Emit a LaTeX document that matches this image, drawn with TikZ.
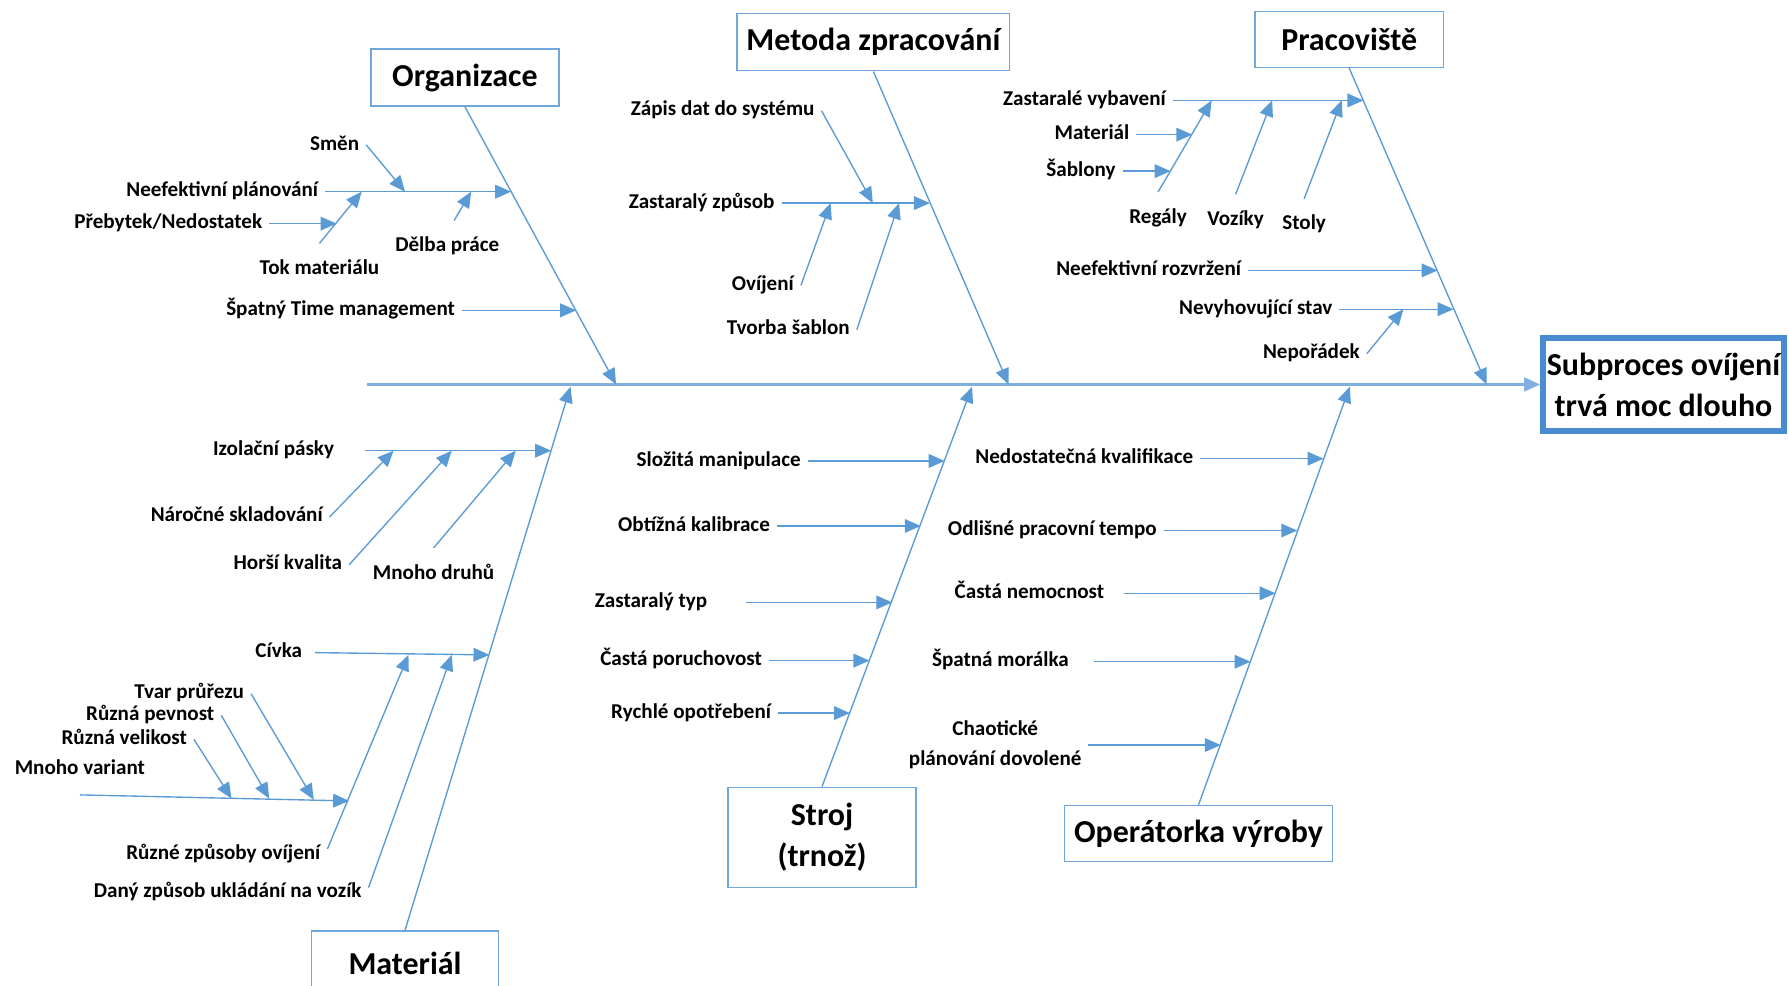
\documentclass[tikz,border=0pt]{standalone}
\usepackage{fontspec}
\setmainfont{Carlito}
\usetikzlibrary{arrows.meta}
\definecolor{bonec}{HTML}{5B9BD5}
\definecolor{spinec}{HTML}{7FB0E0}
\definecolor{boxc}{HTML}{6FA6DC}
\definecolor{effc}{HTML}{4A8CD0}

\begin{document}
\begin{tikzpicture}[x=1pt, y=-1pt,
    bone/.style={draw=bonec, line width=1.2pt},
    arr/.style={bone, -{Triangle[length=14pt, width=12pt]}},
    lab/.style={font=\fontsize{18.5}{26}\selectfont\bfseries, inner xsep=6pt, inner ysep=2pt},
    cause/.style={lab, text height=13pt, text depth=4pt},
    group/.style={draw=boxc, line width=1.3pt, font=\fontsize{28}{36}\selectfont\bfseries, align=center}]

  \useasboundingbox (0,0) rectangle (1568,864);

  \node[group, draw=effc, line width=5pt, minimum width=211pt, minimum height=81pt] (eff) at (1458,337) {Subproces ovíjení\\trvá moc dlouho};
  \node[group, minimum width=165pt, minimum height=50pt] (org) at (407.5,68) {Organizace};
  \node[group, minimum width=239pt, minimum height=50pt] (met) at (765.5,37) {Metoda zpracování};
  \node[group, minimum width=165pt, minimum height=49pt] (pra) at (1182.5,34.5) {Pracoviště};
  \node[group, minimum width=164pt, minimum height=56pt] (mat) at (355,844) {Materiál};
  \node[group, minimum width=165pt, minimum height=88pt] (str) at (720.5,734) {Stroj\\(trnož)};
  \node[group, minimum width=235pt, minimum height=49pt] (ope) at (1050.5,730.5) {Operátorka výroby};

  % spine and bones
  \coordinate (tail) at (322,337);
  \coordinate (oe) at (540,337);
  \coordinate (me) at (884,337);
  \coordinate (pe) at (1303,337);
  \coordinate (ae) at (500,339);
  \coordinate (se) at (852,339);
  \coordinate (qe) at (1183,339);

  \coordinate (o1t) at (448,168);
  \coordinate (o1a) at (355,168);
  \coordinate (o1b) at (317,168);
  \coordinate (o1c) at (413,168);
  \coordinate (toka) at (295,196);
  \coordinate (o6t) at (505,272);

  \coordinate (m1t) at (815,178);
  \coordinate (m1a) at (765,178);
  \coordinate (m1b) at (728,178);
  \coordinate (m1c) at (788,178);

  \coordinate (p1t) at (1195,88);
  \coordinate (p1a) at (1062,88);
  \coordinate (p1b) at (1115,88);
  \coordinate (p1c) at (1176,88);
  \coordinate (rega) at (1045,118);
  \coordinate (regb) at (1026,150);
  \coordinate (p3t) at (1260,237);
  \coordinate (p2t) at (1274,271);
  \coordinate (p2a) at (1230,271);

  \coordinate (a1t) at (483,395);
  \coordinate (a1a) at (345,395);
  \coordinate (a1b) at (396,395);
  \coordinate (a1c) at (452,395);
  \coordinate (a2t) at (429,574);
  \coordinate (a2a) at (358,574);
  \coordinate (a2b) at (396,574);
  \coordinate (vart) at (306,702);
  \coordinate (vara) at (203,700);
  \coordinate (varb) at (236,700);
  \coordinate (varc) at (275,701);

  \coordinate (s1t) at (828,404);
  \coordinate (s2t) at (807,461);
  \coordinate (s3t) at (782,528);
  \coordinate (s4t) at (762,579);
  \coordinate (s5t) at (745,625);

  \coordinate (q1t) at (1160,402);
  \coordinate (q2t) at (1137,465);
  \coordinate (q3t) at (1118,520);
  \coordinate (q4t) at (1096,580);
  \coordinate (q5t) at (1070,653);

  % causes
  \node[cause, anchor=east] (smen) at (321,127) {Směn};
  \node[cause, anchor=east] (o1) at (285,168) {Neefektivní plánování};
  \node[cause, anchor=east] (preb) at (236,196) {Přebytek/Nedostatek};
  \node[cause] (tok) at (280,236) {Tok materiálu};
  \node[cause] (delba) at (392,216) {Dělba práce};
  \node[cause, anchor=east] (o6) at (405,272) {Špatný Time management};

  \node[cause, anchor=east] (zapis) at (720,97) {Zápis dat do systému};
  \node[cause, anchor=east] (m1) at (685,178) {Zastaralý způsob};
  \node[cause, anchor=east] (ovij) at (702,250) {Ovíjení};
  \node[cause, anchor=east] (tvorba) at (751,289) {Tvorba šablon};

  \node[cause, anchor=east] (p1) at (1028,88) {Zastaralé vybavení};
  \node[cause, anchor=east] (pmat) at (996,118) {Materiál};
  \node[cause, anchor=east] (psab) at (984,150) {Šablony};
  \node[cause] (regaly) at (1015,191) {Regály};
  \node[cause] (voziky) at (1083,193) {Vozíky};
  \node[cause] (stoly) at (1143,197) {Stoly};
  \node[cause, anchor=east] (p3) at (1094,237) {Neefektivní rozvržení};
  \node[cause, anchor=east] (p2) at (1174,271) {Nevyhovující stav};
  \node[cause, anchor=east] (nepor) at (1198,310) {Nepořádek};

  \node[cause, anchor=east] (a1) at (299,395) {Izolační pásky};
  \node[cause, anchor=east] (naroc) at (289,453) {Náročné skladování};
  \node[cause, anchor=east] (horsi) at (306,495) {Horší kvalita};
  \node[cause] (druhy) at (380,503) {Mnoho druhů};
  \node[cause, anchor=east] (a2) at (271,572) {Cívka};
  \node[cause, anchor=east] (tvar) at (220,608) {Tvar průřezu};
  \node[cause, anchor=east, fill=white] (pevn) at (194,627) {Různá pevnost};
  \node[cause, anchor=east] (velik) at (170,648) {Různá velikost};
  \node[cause] (varia) at (70,674) {Mnoho variant};
  \node[cause, anchor=east] (zpus) at (287,749) {Různé způsoby ovíjení};
  \node[cause, anchor=east] (dany) at (323,782) {Daný způsob ukládání na vozík};

  \node[cause, anchor=east] (s1) at (708,404) {Složitá manipulace};
  \node[cause, anchor=east] (s2) at (681,461) {Obtížná kalibrace};
  \node[cause, anchor=east] (s3) at (626,528) {Zastaralý typ};
  \node[cause, anchor=east] (s4) at (674,579) {Častá poruchovost};
  \node[cause, anchor=east] (s5) at (682,625) {Rychlé opotřebení};

  \node[cause, anchor=east] (q1) at (1052,402) {Nedostatečná kvalifikace};
  \node[cause, anchor=east] (q2) at (1020,465) {Odlišné pracovní tempo};
  \node[cause, anchor=east] (q3) at (974,520) {Častá nemocnost};
  \node[cause, anchor=east] (q4) at (943,580) {Špatná morálka};
  \node[lab, align=center, anchor=east] (q5) at (954,653) {Chaotické\\plánování dovolené};

  \draw[arr, line width=2pt, draw=spinec] (tail) -- (eff.west);
  \draw[arr] (org.south) -- (oe);
  \draw[arr] (met.south) -- (me);
  \draw[arr] (pra.south) -- (pe);
  \draw[arr] (mat.north) -- (ae);
  \draw[arr] (str.north) -- (se);
  \draw[arr] (ope.north) -- (qe);

  \draw[arr] (o1.east) -- (o1t);
  \draw[arr] (smen.east) -- (o1a);
  \draw[arr] (preb.east) -- (toka);
  \draw[arr] ([yshift=12pt]tok.north) -- (o1b);
  \draw[arr] ([xshift=6pt,yshift=12pt]delba.north) -- (o1c);
  \draw[arr] (o6.east) -- (o6t);

  \draw[arr] (zapis.east) -- (m1a);
  \draw[arr] (m1.east) -- (m1t);
  \draw[arr] (ovij.east) -- (m1b);
  \draw[arr] (tvorba.east) -- (m1c);

  \draw[arr] (p1.east) -- (p1t);
  \draw[arr] (pmat.east) -- (rega);
  \draw[arr] (psab.east) -- (regb);
  \draw[arr] ([yshift=12pt]regaly.north) -- (p1a);
  \draw[arr] ([yshift=12pt]voziky.north) -- (p1b);
  \draw[arr] ([yshift=12pt]stoly.north) -- (p1c);
  \draw[arr] (p3.east) -- (p3t);
  \draw[arr] (p2.east) -- (p2t);
  \draw[arr] (nepor.east) -- (p2a);

  \draw[arr] ([xshift=21pt]a1.east) -- (a1t);
  \draw[arr] (naroc.east) -- (a1a);
  \draw[arr] (horsi.east) -- (a1b);
  \draw[arr] ([yshift=12pt]druhy.north) -- (a1c);
  \draw[arr] ([xshift=5pt]a2.east) -- (a2t);
  \draw[arr] (tvar.east) -- (varc);
  \draw[arr] (pevn.east) -- (varb);
  \draw[arr] (velik.east) -- (vara);
  \draw[arr] ([yshift=-12pt]varia.south) -- (vart);
  \draw[arr] ([yshift=5pt]zpus.east) -- (a2a);
  \draw[arr] ([yshift=4pt]dany.east) -- (a2b);

  \draw[arr] (s1.east) -- (s1t);
  \draw[arr] (s2.east) -- (s2t);
  \draw[arr] ([xshift=28pt]s3.east) -- (s3t);
  \draw[arr] (s4.east) -- (s4t);
  \draw[arr] (s5.east) -- (s5t);

  \draw[arr] (q1.east) -- (q1t);
  \draw[arr] (q2.east) -- (q2t);
  \draw[arr] ([xshift=11pt]q3.east) -- (q3t);
  \draw[arr] ([xshift=16pt]q4.east) -- (q4t);
  \draw[arr] (q5.east) -- (q5t);
\end{tikzpicture}
\end{document}
